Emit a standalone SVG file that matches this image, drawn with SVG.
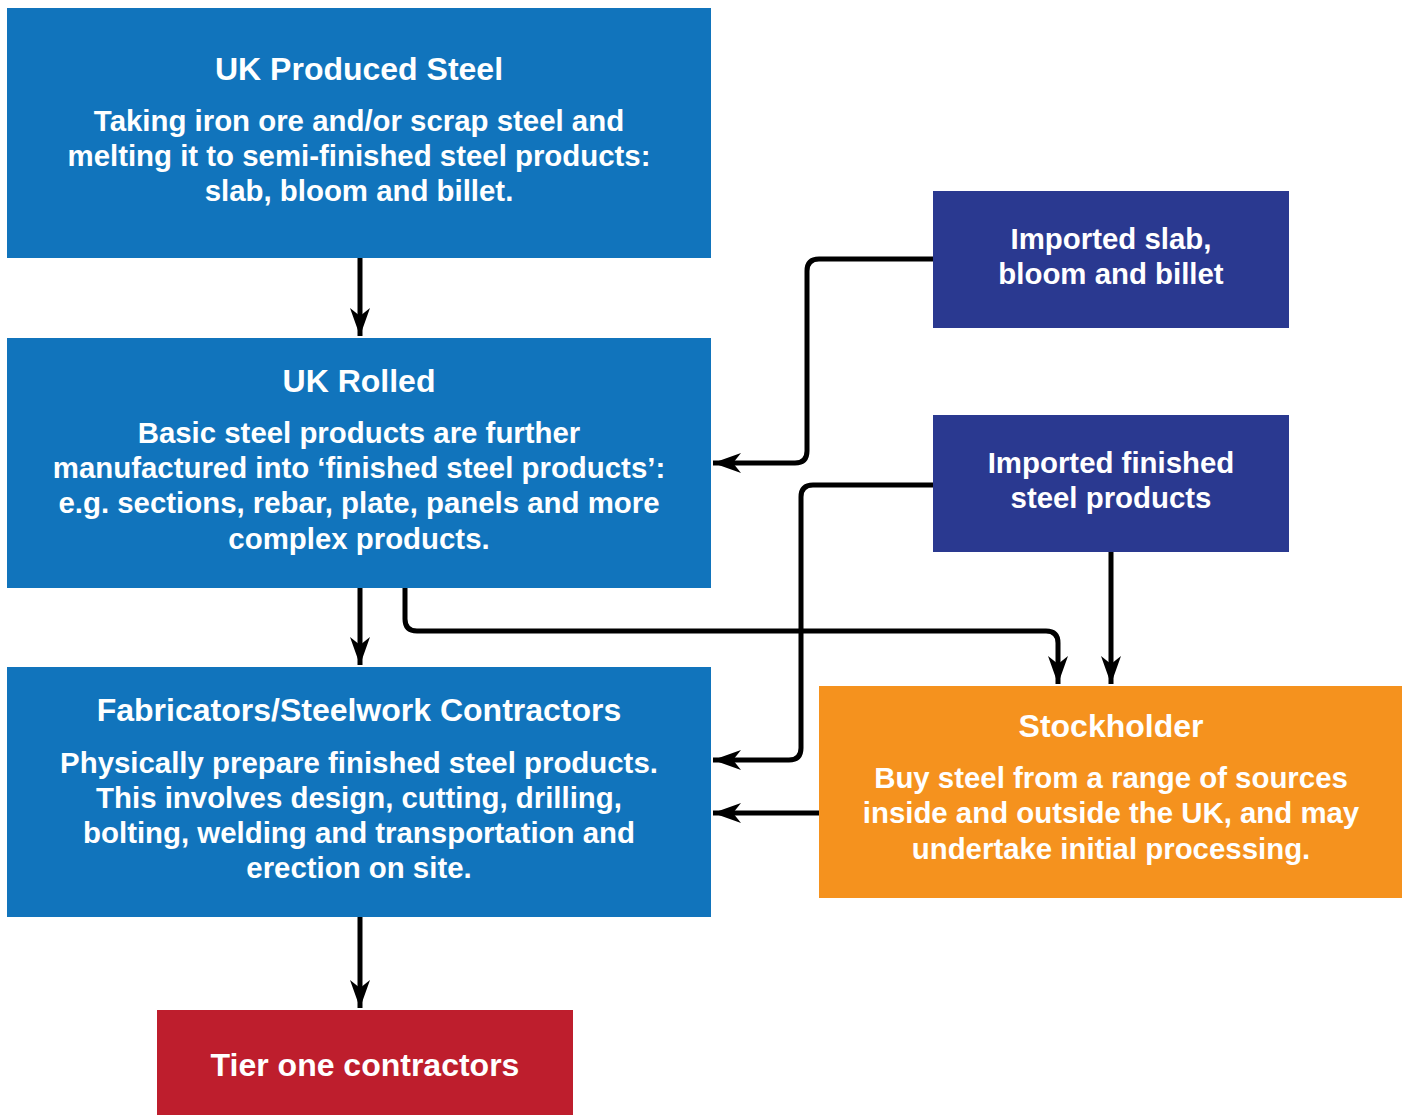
<svg xmlns="http://www.w3.org/2000/svg" width="1405" height="1115" viewBox="0 0 1405 1115">
<style>
.t{font-family:"Liberation Sans",Arial,sans-serif;font-weight:bold;fill:#fff;text-anchor:middle}
.h{font-size:32px}
.b{font-size:29.4px}
.c{fill:none;stroke:#000;stroke-width:5;stroke-linejoin:round}
</style>
<defs>
<marker id="a" markerUnits="userSpaceOnUse" markerWidth="30" markerHeight="24" viewBox="0 0 30 24" refX="28" refY="12" orient="auto">
<path d="M28,12 L0,2 L8,12 L0,22 Z" fill="#000"/>
</marker>
</defs>
<rect width="1405" height="1115" fill="#fff"/>
<g id="connectors">
<path class="c" d="M360,258 V336" marker-end="url(#a)"/>
<path class="c" d="M933,259 H819 Q807,259 807,271 V451 Q807,463 795,463 H713" marker-end="url(#a)"/>
<path class="c" d="M933,485 H813 Q801,485 801,497 V748 Q801,760 789,760 H713" marker-end="url(#a)"/>
<path class="c" d="M405,588 V619 Q405,631 417,631 H1046 Q1058,631 1058,643 V684" marker-end="url(#a)"/>
<path class="c" d="M1111,552 V684" marker-end="url(#a)"/>
<path class="c" d="M360,588 V665" marker-end="url(#a)"/>
<path class="c" d="M819,813 H713" marker-end="url(#a)"/>
<path class="c" d="M360,917 V1008" marker-end="url(#a)"/>
</g>
<g id="uk-produced">
<rect x="7" y="8" width="704" height="250" fill="#1174BC"/>
<text class="t h" x="359" y="80">UK Produced Steel</text>
<text class="t b" x="359" y="131">Taking iron ore and/or scrap steel and</text>
<text class="t b" x="359" y="166">melting it to semi-finished steel products:</text>
<text class="t b" x="359" y="201">slab, bloom and billet.</text>
</g>
<g id="uk-rolled">
<rect x="7" y="338" width="704" height="250" fill="#1174BC"/>
<text class="t h" x="359" y="392">UK Rolled</text>
<text class="t b" x="359" y="443">Basic steel products are further</text>
<text class="t b" x="359" y="478">manufactured into ‘finished steel products’:</text>
<text class="t b" x="359" y="513">e.g. sections, rebar, plate, panels and more</text>
<text class="t b" x="359" y="549">complex products.</text>
</g>
<g id="fabricators">
<rect x="7" y="667" width="704" height="250" fill="#1174BC"/>
<text class="t h" x="359" y="721">Fabricators/Steelwork Contractors</text>
<text class="t b" x="359" y="773">Physically prepare finished steel products.</text>
<text class="t b" x="359" y="808">This involves design, cutting, drilling,</text>
<text class="t b" x="359" y="843">bolting, welding and transportation and</text>
<text class="t b" x="359" y="878">erection on site.</text>
</g>
<g id="tier-one">
<rect x="157" y="1010" width="416" height="105" fill="#BE1E2D"/>
<text class="t h" x="365" y="1076">Tier one contractors</text>
</g>
<g id="imported-slab">
<rect x="933" y="191" width="356" height="137" fill="#2A3990"/>
<text class="t b" x="1111" y="249">Imported slab,</text>
<text class="t b" x="1111" y="284">bloom and billet</text>
</g>
<g id="imported-finished">
<rect x="933" y="415" width="356" height="137" fill="#2A3990"/>
<text class="t b" x="1111" y="473">Imported finished</text>
<text class="t b" x="1111" y="508">steel products</text>
</g>
<g id="stockholder">
<rect x="819" y="686" width="583" height="212" fill="#F5921E"/>
<text class="t h" x="1111" y="737">Stockholder</text>
<text class="t b" x="1111" y="788">Buy steel from a range of sources</text>
<text class="t b" x="1111" y="823">inside and outside the UK, and may</text>
<text class="t b" x="1111" y="859">undertake initial processing.</text>
</g>
</svg>
